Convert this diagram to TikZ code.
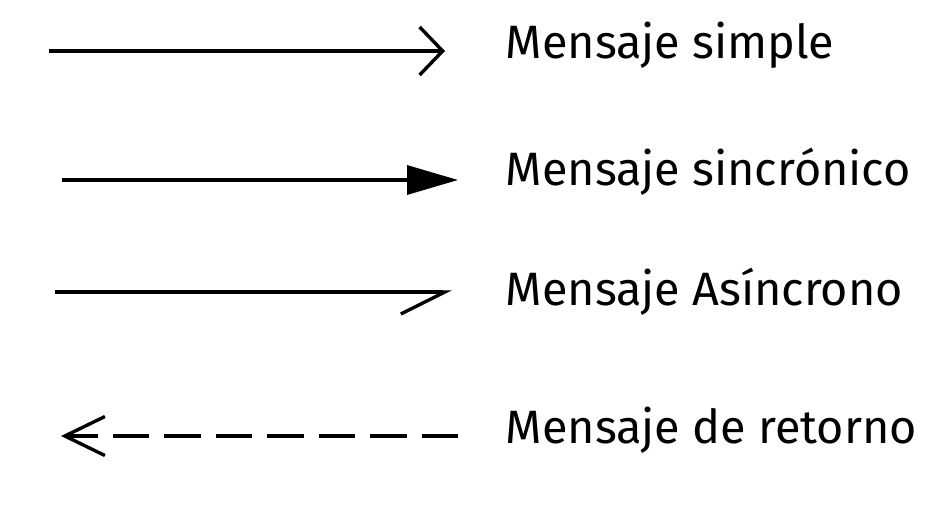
\documentclass[tikz,border=0pt]{standalone}
\usepackage{fontspec}
\setmainfont{Fira Sans}
\usetikzlibrary{arrows.meta}

\begin{document}
\begin{tikzpicture}[x=0.5pt,y=-0.5pt,line width=1.7pt,font=\fontsize{23.4pt}{28pt}\selectfont,
  msg/.style={anchor=base west,inner sep=0pt}]
  \useasboundingbox (0,0) rectangle (945,505);
  \coordinate (S1) at (49,51);
  \coordinate (E1) at (445,51);
  \coordinate (S2) at (62,180);
  \coordinate (E2) at (458,180);
  \coordinate (S3) at (55,292);
  \coordinate (E3) at (452,292);
  \coordinate (S4) at (458,436);
  \coordinate (E4) at (61,436);
  \draw[-{Straight Barb[length=11.5pt,width=24pt]}] (S1) -- (E1);
  \draw[-{Triangle[length=25.5pt,width=14.5pt]}] (S2) -- (E2);
  \draw[-{Straight Barb[right,length=22pt,width=22pt]}] (S3) -- (E3);
  \draw[-{Straight Barb[length=20pt,width=19.5pt]},dash pattern=on 18.25pt off 7.5pt] (S4) -- (E4);
  \node[msg] (simple) at (504,58) {Mensaje simple};
  \node[msg] (sinc) at (504,185) {Mensaje sincrónico};
  \node[msg] (asinc) at (504,305) {Mensaje Asíncrono};
  \node[msg] (retorno) at (504,443) {Mensaje de retorno};
\end{tikzpicture}
\end{document}
